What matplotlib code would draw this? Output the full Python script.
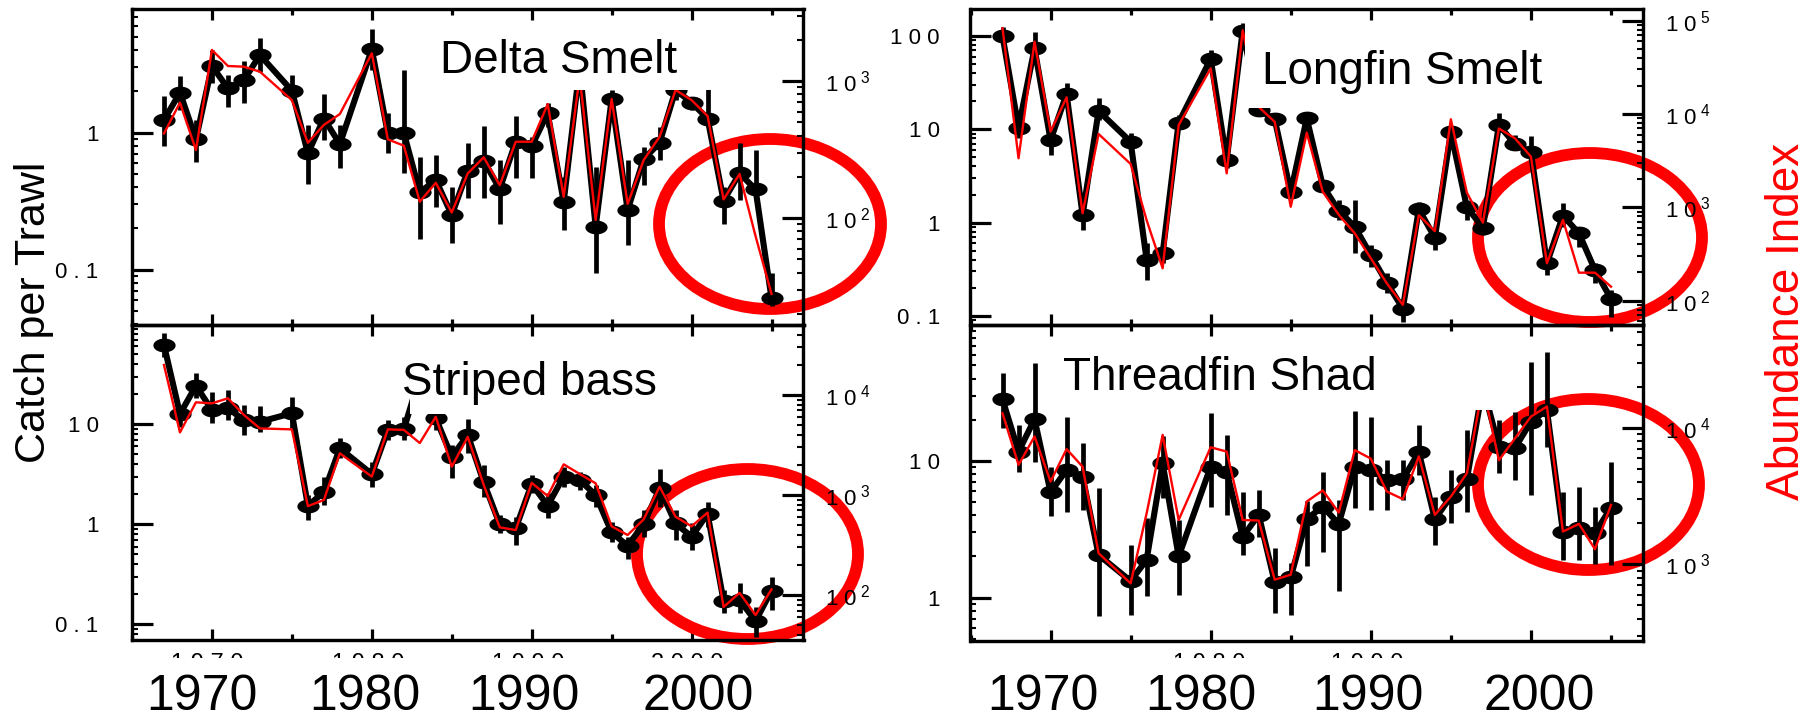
import numpy as np
import matplotlib
matplotlib.use('Agg')
import matplotlib.pyplot as plt
from matplotlib.path import Path
from matplotlib.patches import Ellipse, Rectangle
from matplotlib.ticker import LogLocator, FuncFormatter, MultipleLocator, NullFormatter

plt.rcParams['font.family'] = ['Liberation Sans', 'DejaVu Sans']
plt.rcParams['mathtext.fontset'] = 'custom'
plt.rcParams['mathtext.rm'] = 'Liberation Sans'
plt.rcParams['mathtext.it'] = 'Liberation Sans'
plt.rcParams['mathtext.bf'] = 'Liberation Sans'
plt.rcParams['mathtext.default'] = 'rm'

nan = float('nan')
years = list(range(1967, 2006))
x_labels = ['1970', '1980', '1990', '2000']
panel_names = ['Delta Smelt', 'Longfin Smelt', 'Striped bass', 'Threadfin Shad']
y_title = 'Catch per Trawl'
y2_title = 'Abundance Index'

# ---- Delta smelt ----
delta_catch = [1.24, 1.96, 0.895, 3.07, 2.11, 2.42, 3.69, nan, 2.03, 0.707, 1.27, 0.827, nan,
               4.06, 0.99, 1.0, 0.367, 0.452, 0.251, 0.528, 0.625, 0.388, 0.86, 0.80, 1.386, 0.313,
               3.0, 0.206, 1.76, 0.273, 0.64, 0.846, 2.05, 1.66, 1.27, 0.319, 0.505, 0.386, 0.0618]
delta_lo = [0.80, 1.466, 0.608, 2.29, 1.55, 1.64, 2.79, nan, 1.73, 0.422, 0.885, 0.55, nan,
            2.87, 0.707, 0.505, 0.169, 0.2886, 0.156, 0.332, 0.332, 0.216, 0.465, 0.465, 1.107, 0.195,
            2.4, 0.094, 1.385, 0.1515, 0.415, 0.632, 1.73, 1.466, 1.17, 0.216, 0.323, 0.323, 0.054]
delta_hi = [1.86, 2.59, 1.24, 4.02, 2.64, 3.36, 4.89, nan, 2.64, 1.14, 1.91, 1.14, nan,
            5.68, 1.385, 2.87, 0.668, 0.687, 0.404, 0.836, 1.12, 0.632, 1.324, 0.936, 1.64, 0.478,
            3.6, 0.565, 2.05, 0.632, 0.791, 1.107, 2.6, 1.83, 2.3, 0.404, 0.846, 0.748, 0.094]
delta_index = [415, 696, 314, 1688, 1289, 1274, 1172, nan, 727, 355, 479, 575, nan,
               1594, 376, 338, 132, 181, 110, 212, 278, 174, 361, 361, 680, 143,
               1078, 97, 740, 127, 265, 393, 861, 727, 556, 137, 210, 74, 28]

# ---- Longfin smelt ----
longfin_catch = [100, 10.4, 73.6, 7.67, 23.9, 1.21, 15.7, nan, 7.36, 0.398, 0.468, 11.8, nan,
                 56.6, 4.69, 114, 16.1, 12.8, 2.11, 13.1, 2.49, 1.34, 0.904, 0.45, 0.227, 0.12,
                 1.39, 0.689, 9.27, 1.46, 0.883, 11.1, 6.95, 5.66, 0.366, 1.19, 0.767, 0.31, 0.152]
longfin_lo = [86.9, 8.0, 53.2, 5.3, 20.6, 0.833, 12.6, nan, 6.51, 0.243, 0.366, 10.2, nan,
              49, 3.82, 100, 14, 10.8, 1.82, 11.1, 2.15, 1.07, 0.469, 0.337, 0.175, 0.0867,
              1.16, 0.508, 7.68, 1.07, 0.736, 9.43, 6.0, 4.69, 0.274, 0.904, 0.552, 0.223, 0.098]
longfin_hi = [126, 13.1, 111, 10.7, 31.1, 1.48, 21.5, nan, 9.06, 0.6, 0.575, 14.2, nan,
              70.8, 5.75, 137, 18, 14.2, 2.43, 15.5, 2.75, 1.75, 1.75, 0.575, 0.286, 0.148,
              1.68, 0.833, 10.7, 1.68, 1.07, 14.8, 8.69, 8.48, 0.431, 1.61, 0.904, 0.366, 0.19]
longfin_index = [82900, 3350, 59500, 6460, 15070, 863, 6100, nan, 2910, 726, 222, 7600, nan,
                 30800, 2310, 78700, 11900, 8220, 1014, 6300, 1466, 829, 525, 284, 153, 90,
                 822, 555, 8770, 1432, 685, 6990, 5480, 3490, 251, 733, 199, 199, 141]

# ---- Striped bass ----
bass_catch = [62.1, 12.7, 24.3, 13.9, 14.5, 11.0, 10.6, nan, 12.9, 1.54, 2.09, 5.75, nan,
              3.18, 8.77, 8.9, 30, 11.5, 4.74, 7.82, 2.63, 1.0, 0.912, 2.53, 1.54, 3.0,
              2.77, 1.96, 0.83, 0.61, 1.0, 2.29, 1.02, 0.752, 1.27, 0.172, 0.175, 0.108, 0.217]
bass_lo = [47.5, 9.47, 18.2, 10.2, 11.0, 7.82, 8.44, nan, 9.11, 1.10, 1.56, 4.57, nan,
           2.38, 6.97, 6.97, 25, 8.77, 2.88, 5.13, 1.89, 0.81, 0.62, 2.04, 1.15, 2.38,
           2.2, 1.5, 0.67, 0.447, 0.75, 1.5, 0.697, 0.553, 0.947, 0.129, 0.129, 0.075, 0.139]
bass_hi = [81.7, 15.6, 32.4, 21.2, 22.0, 15.6, 15.2, nan, 18.6, 1.96, 2.99, 7.24, nan,
           4.23, 11.0, 11.9, 36, 13.9, 6.21, 11.2, 3.92, 1.24, 1.19, 3.11, 2.04, 3.77,
           3.36, 2.47, 1.06, 0.75, 1.39, 3.55, 1.39, 1.02, 1.68, 0.22, 0.257, 0.15, 0.295]
bass_index = [19950, 4225, 8449, 8246, 9264, 6312, 4632, nan, 4530, 774, 891, 2611, nan,
              1527, 4530, 4479, 3309, 6057, 1919, 3818, 1257, 475, 446, 1323, 977, 2026,
              1624, 1308, 486, 398, 570, 1211, 606, 486, 667, 76, 105, 63, 114]

# ---- Threadfin shad ----
shad_catch = [28.2, 11.7, 20.2, 5.9, 8.59, 7.68, 2.05, nan, 1.32, 1.89, 9.61, 2.0, nan,
              9.08, 8.35, 2.79, 4.03, 1.29, 1.41, 3.76, 4.63, 3.46, 9.08, 8.59, 7.26, 7.34,
              11.6, 3.74, 5.48, 7.34, 35, 12.7, 12.4, 19.4, 23.6, 3.01, 3.22, 2.96, 4.56]
shad_lo = [17.3, 8.36, 9.89, 3.92, 4.26, 4.38, 0.727, nan, 0.748, 1.02, 5.33, 1.05, nan,
           4.63, 4.03, 2.05, 2.79, 0.769, 0.748, 1.69, 2.17, 1.11, 4.51, 4.38, 4.38, 5.19,
           7.9, 2.43, 3.5, 4.26, 27, 8.13, 7.26, 5.64, 12.7, 1.87, 1.87, 1.75, 1.73]
shad_hi = [43.8, 18.3, 52.4, 9.08, 20.9, 13.6, 6.31, nan, 2.43, 3.81, 15.1, 3.7, nan,
           22.3, 15.5, 5.97, 6.14, 2.3, 1.78, 5.05, 8.36, 5.19, 23.3, 20.9, 10.2, 10.2,
           18.3, 5.48, 8.59, 16.8, 45, 20.0, 23.0, 53.3, 63.1, 5.97, 6.49, 4.63, 9.89]
shad_index = [12730, 5340, 8620, 4030, 6970, 5180, 1205, nan, 725, 2360, 8850, 2110, nan,
              7190, 6680, 2110, 2090, 771, 839, 2880, 3470, 2390, 6850, 5940, 3410, 3000,
              6170, 2300, 3130, 4640, 20000, 5770, 8340, 12050, 14280, 1736, 1976, 1290, 2720]

# ---------------- layout (pixels, origin top-left) ----------------
W, H, DPI = 1815, 716, 100
fig = plt.figure(figsize=(W / DPI, H / DPI), dpi=DPI)
fig.patch.set_facecolor('white')


def fr(x0, y0, x1, y1):
    return [x0 / W, 1 - y1 / H, (x1 - x0) / W, (y1 - y0) / H]


def fx(x):
    return x / W


def fy(y):
    return 1 - y / H


t = np.linspace(0, 2 * np.pi, 64)
ell_marker = Path(np.column_stack([np.cos(t), 0.62 * np.sin(t)]), closed=True)


def left_fmt(v, pos):
    s = ('%g' % v)
    return ' '.join(list(s))


def right_fmt(v, pos):
    e = int(round(np.log10(v)))
    return r'$1\ 0^{\ %d}$' % e


panels = [
    dict(name=panel_names[0], catch=delta_catch, lo=delta_lo, hi=delta_hi, idx=delta_index,
         frame=(132, 9, 803.5, 325), ylim=(0.0395, 8.0), y2lim=(16.6, 3360),
         box=(430, 22, 767, 90), txt=(440, 73), ell=(770, 224, 222, 170), lpad=24),
    dict(name=panel_names[1], catch=longfin_catch, lo=longfin_lo, hi=longfin_hi, idx=longfin_index,
         frame=(970.5, 9, 1643, 325), ylim=(0.0799, 194.6), y2lim=(54.7, 133300),
         box=(1245, 22, 1570, 108), txt=(1262, 84), ell=(1590, 237.5, 224, 169), lpad=22),
    dict(name=panel_names[2], catch=bass_catch, lo=bass_lo, hi=bass_hi, idx=bass_index,
         frame=(132, 325, 803.5, 640), ylim=(0.0697, 98.4), y2lim=(35.5, 50090),
         box=(410, 340, 690, 414), txt=(402, 395), ell=(747.5, 554, 221, 170), lpad=24),
    dict(name=panel_names[3], catch=shad_catch, lo=shad_lo, hi=shad_hi, idx=shad_index,
         frame=(970.5, 325, 1643, 640.5), ylim=(0.4845, 98.9), y2lim=(276.6, 56470),
         box=(1045, 338, 1510, 410), txt=(1063, 390), ell=(1588.5, 484.5, 221, 171), lpad=22),
]

xs = np.array(years, dtype=float)
for p in panels:
    ax = fig.add_axes(fr(*p['frame']))
    ax.set_facecolor('none')
    ax.set_xlim(1965, 2007)
    ax.set_yscale('log')
    ax.set_ylim(*p['ylim'])
    ax2 = ax.twinx()
    ax2.set_yscale('log')
    ax2.set_ylim(*p['y2lim'])
    ax2.set_facecolor('none')

    for a in (ax, ax2):
        for s in a.spines.values():
            s.set_linewidth(2.3)
            s.set_color('black')

    ax.xaxis.set_major_locator(MultipleLocator(10))
    ax.xaxis.set_minor_locator(MultipleLocator(5))
    ax.tick_params(axis='x', which='major', direction='in', length=8, width=2.3,
                   top=True, bottom=True, labelbottom=False, labeltop=False)
    ax.tick_params(axis='x', which='minor', direction='in', length=4.5, width=2.3,
                   top=True, bottom=True)

    for a, fmt, pad in ((ax, left_fmt, p['lpad']), (ax2, right_fmt, 15.5)):
        a.yaxis.set_major_locator(LogLocator(base=10, numticks=20))
        a.yaxis.set_minor_locator(LogLocator(base=10, subs=np.arange(2, 10), numticks=20))
        a.yaxis.set_minor_formatter(NullFormatter())
        a.yaxis.set_major_formatter(FuncFormatter(fmt))
        a.tick_params(axis='y', which='major', direction='in', length=15, width=2.3,
                      labelsize=16, pad=pad, colors='black')
        a.tick_params(axis='y', which='minor', direction='in', length=4, width=1.5)

    c = np.array(p['catch'], dtype=float)
    lo = np.array(p['lo'], dtype=float)
    hi = np.array(p['hi'], dtype=float)
    m = ~np.isnan(c)
    ax.plot(xs[m], c[m], color='black', lw=4.4, zorder=3, solid_joinstyle='round',
            solid_capstyle='round')
    ax.errorbar(xs[m], c[m], yerr=[c[m] - lo[m], hi[m] - c[m]], fmt='none', ecolor='black',
                elinewidth=3.4, capsize=0, zorder=3)
    ax.plot(xs[m], c[m], ls='none', marker=ell_marker, ms=16, mfc='black', mec='black',
            mew=0, zorder=4)

    r = np.array(p['idx'], dtype=float)
    mr = ~np.isnan(r)
    ax2.plot(xs[mr], r[mr], color='#ff0000', lw=1.7, zorder=3)

    cx, cy, ew, eh = p['ell']
    ax.add_patch(Ellipse((fx(cx), fy(cy)), ew / W, eh / H, transform=fig.transFigure,
                         fill=False, edgecolor='#ff0000', lw=8.5, clip_on=False, zorder=2))

    bx0, by0, bx1, by1 = p['box']
    fig.add_artist(Rectangle((fx(bx0), fy(by1)), (bx1 - bx0) / W, (by1 - by0) / H,
                             transform=fig.transFigure, facecolor='white', edgecolor='none',
                             zorder=5))
    fig.text(fx(p['txt'][0]), fy(p['txt'][1]), p['name'], fontsize=33, ha='left',
             va='baseline', color='black', zorder=6)

# remnants of the original small year labels, partly hidden
rem = [(207, '1 9 7 0'), (368, '1 9 8 0'), (528, '1 9 9 0'), (687, '2 0 0 0'),
       (1209, '1 9 8 0'), (1367, '1 9 9 0')]
for xp, s in rem:
    fig.text(fx(xp), fy(653.5), s, fontsize=17, ha='center', va='top', color='black', zorder=6)
fig.add_artist(Rectangle((0, 0), 1, fy(657.5), transform=fig.transFigure, facecolor='white',
                         edgecolor='none', zorder=7))

# big year labels
big_x = [202, 364.5, 524, 698, 1043, 1201, 1368, 1539]
for i, xp in enumerate(big_x):
    fig.text(fx(xp), fy(710), x_labels[i % 4], fontsize=36, ha='center', va='baseline',
             color='black', zorder=8)

fig.text(fx(45), fy(312), y_title, fontsize=31, rotation=90, rotation_mode='anchor',
         ha='center', va='baseline', color='black', zorder=8)
fig.text(fx(1799), fy(321), y2_title, fontsize=33, rotation=90, rotation_mode='anchor',
         ha='center', va='baseline', color='#ff0000', zorder=8)

fig.savefig('out.png', dpi=DPI, facecolor='white')
